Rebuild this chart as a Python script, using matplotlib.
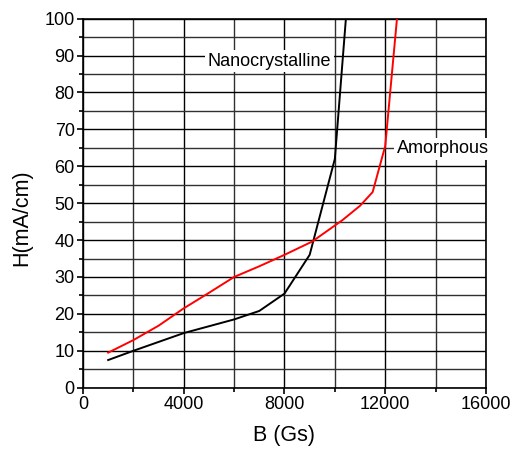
import numpy as np
import matplotlib
matplotlib.use("Agg")
import matplotlib.pyplot as plt
from matplotlib.ticker import MultipleLocator

plt.rcParams['font.family'] = ['Liberation Sans', 'DejaVu Sans']

# B (Gs) vs H (mA/cm)
nano_b = [1000, 2000, 4000, 6000, 7000, 8000, 9000, 10000, 10450]
nano_h = [7.5, 10.0, 14.8, 18.5, 20.8, 25.5, 36.0, 62.0, 101]

amor_b = [1000, 2000, 3000, 4000, 5000, 6000, 7000, 8000, 9100, 10300, 11000, 11500, 12000, 12480]
amor_h = [9.5, 12.9, 16.8, 21.5, 25.7, 30.0, 32.9, 36.0, 39.6, 45.4, 49.3, 53.0, 65.5, 101]

fig = plt.figure(figsize=(5.17, 4.49), dpi=100)
ax = fig.add_axes([0.1605, 0.1365, 0.7795, 0.822])

ax.plot(nano_b, nano_h, color='black', lw=1.4, zorder=3)
ax.plot(amor_b, amor_h, color='red', lw=1.4, zorder=3)

ax.set_xlim(0, 16000)
ax.set_ylim(0, 100)
ax.xaxis.set_major_locator(MultipleLocator(4000))
ax.xaxis.set_minor_locator(MultipleLocator(2000))
ax.yaxis.set_major_locator(MultipleLocator(10))
ax.yaxis.set_minor_locator(MultipleLocator(5))
ax.grid(True, which='major', color='black', lw=1.0)
ax.grid(True, which='minor', color='#303030', lw=1.0)
ax.set_axisbelow(True)

for s in ax.spines.values():
    s.set_linewidth(1.2)
ax.tick_params(which='major', direction='out', length=4, width=1.2, labelsize=13, pad=2)
ax.tick_params(which='minor', direction='out', length=3, width=1.2)

ax.set_xlabel('B (Gs)', fontsize=15.5)
ax.set_ylabel('H(mA/cm)', fontsize=15.5)
ax.xaxis.set_label_coords(0.5, -0.1)
ax.yaxis.set_label_coords(-0.125, 0.46)

box = dict(facecolor='white', edgecolor='none', pad=2)
ax.text(4950, 88.5, 'Nanocrystalline', fontsize=13, ha='left', va='center',
        bbox=box, zorder=4, clip_on=False)
ax.text(12470, 64.7, 'Amorphous', fontsize=13, ha='left', va='center',
        bbox=box, zorder=4, clip_on=False)

fig.savefig('out.png', dpi=100)
